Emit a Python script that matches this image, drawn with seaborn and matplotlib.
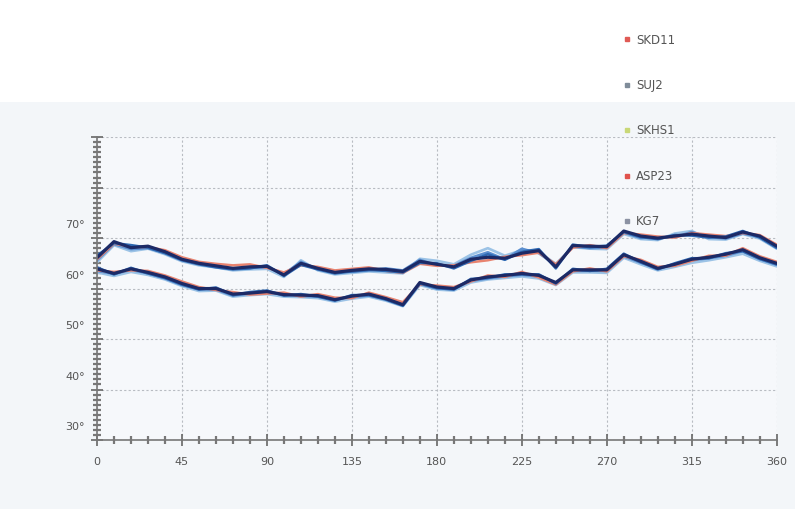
# two bundles of angle curves per steel grade

import pandas as pd
import matplotlib
matplotlib.use("Agg")
import matplotlib.pyplot as plt
import matplotlib.transforms as mtransforms
from matplotlib.lines import Line2D
from matplotlib.patches import Rectangle
import seaborn as sns

# data
angles = [0, 9, 18, 27, 36, 45, 54, 63, 72, 81, 90, 99, 108, 117, 126, 135, 144, 153, 162, 171,
          180, 189, 198, 207, 216, 225, 234, 243, 252, 261, 270, 279, 288, 297, 306, 315, 324, 333,
          342, 351, 360]

upper_suj2 = [66.1, 69.3, 68.1, 68.4, 67.3, 65.8, 65.0, 64.5, 64.0, 64.3, 64.4, 62.7, 65.0, 64.0, 63.2, 63.6, 63.9, 63.8, 63.4, 65.4, 64.8, 64.3, 65.8, 66.2, 66.0, 67.0, 67.5, 64.3, 68.5, 68.4, 68.3, 71.4, 70.4, 70.0, 70.4, 70.8, 70.4, 70.1, 71.2, 70.4, 68.4]
upper_skd11 = [65.8, 68.9, 68.3, 68.2, 67.6, 66.2, 65.3, 64.9, 64.6, 64.8, 64.1, 63.2, 64.6, 64.3, 63.6, 63.9, 64.2, 63.5, 63.1, 64.9, 64.5, 64.6, 65.2, 65.6, 66.3, 66.6, 67.1, 64.8, 68.1, 68.6, 68.0, 71.0, 70.7, 70.3, 70.1, 71.0, 70.7, 70.4, 71.0, 70.6, 68.7]
upper_skhs1 = [65.2, 68.6, 67.4, 67.9, 66.8, 65.4, 64.6, 64.2, 63.6, 63.8, 63.9, 62.3, 65.6, 63.6, 62.8, 63.1, 63.4, 63.2, 63.0, 65.9, 65.5, 64.8, 66.7, 68.0, 66.5, 67.6, 67.2, 64.9, 68.2, 67.9, 67.8, 70.8, 69.8, 69.6, 70.9, 71.4, 69.8, 69.7, 70.8, 69.9, 67.9]
upper_asp23 = [66.5, 69.0, 68.6, 68.1, 67.0, 65.6, 64.8, 64.2, 63.8, 64.0, 64.6, 62.5, 64.7, 63.8, 63.0, 63.4, 63.7, 63.5, 63.2, 65.1, 65.0, 64.0, 65.5, 66.8, 65.7, 67.3, 67.8, 64.0, 68.7, 68.2, 68.5, 71.2, 70.2, 69.8, 70.6, 70.5, 70.1, 70.3, 71.4, 70.1, 68.1]
upper_kg7 = [65.6, 68.8, 67.8, 68.0, 67.1, 65.9, 65.1, 64.4, 63.9, 64.1, 64.2, 62.9, 65.3, 63.8, 63.4, 63.3, 63.6, 64.0, 63.6, 65.7, 64.6, 64.5, 66.1, 67.2, 65.8, 67.9, 67.0, 64.6, 68.3, 68.0, 68.1, 71.1, 70.0, 70.2, 70.2, 71.2, 70.2, 69.9, 70.9, 70.2, 68.0]

lower_suj2 = [63.9, 63.0, 63.9, 63.2, 62.3, 61.0, 60.0, 60.0, 58.9, 59.1, 59.4, 58.8, 58.7, 58.6, 57.8, 58.5, 58.9, 58.0, 56.8, 61.2, 60.3, 60.0, 61.7, 62.3, 62.6, 63.0, 62.6, 61.2, 63.7, 63.7, 63.7, 66.7, 65.4, 64.0, 64.8, 65.8, 66.2, 66.8, 67.7, 66.1, 65.0]
lower_skd11 = [63.6, 63.3, 63.6, 63.5, 62.6, 61.4, 60.3, 59.7, 59.3, 58.8, 59.0, 59.2, 58.4, 58.9, 58.2, 58.1, 59.2, 58.3, 57.3, 60.8, 60.6, 60.3, 61.4, 62.6, 62.3, 63.3, 62.2, 60.8, 63.4, 64.0, 63.4, 66.4, 65.7, 64.3, 64.5, 65.5, 66.5, 66.5, 68.0, 66.4, 65.3]
lower_skhs1 = [63.2, 62.5, 63.3, 62.7, 61.8, 60.5, 59.5, 59.6, 58.4, 58.7, 58.9, 58.4, 58.3, 58.1, 57.4, 58.0, 58.4, 57.6, 56.5, 60.7, 59.8, 59.6, 61.2, 61.8, 62.1, 62.4, 62.0, 60.7, 63.2, 63.2, 63.1, 66.1, 64.8, 63.6, 64.3, 65.1, 65.6, 66.2, 66.9, 65.5, 64.4]
lower_asp23 = [64.2, 62.8, 64.1, 63.0, 62.1, 60.8, 59.8, 60.2, 58.7, 59.3, 59.6, 58.6, 58.9, 58.4, 57.6, 58.7, 58.7, 57.8, 56.6, 61.0, 60.1, 59.8, 61.9, 62.1, 62.8, 62.8, 62.8, 61.0, 63.9, 63.5, 63.9, 66.9, 65.2, 63.8, 65.0, 66.0, 66.0, 67.0, 67.4, 65.9, 64.8]
lower_kg7 = [63.5, 62.9, 63.7, 63.0, 62.0, 60.7, 59.9, 59.8, 58.6, 59.0, 59.1, 58.9, 58.5, 58.4, 57.9, 58.3, 58.6, 57.9, 57.0, 60.9, 60.0, 59.9, 61.5, 62.0, 62.4, 62.7, 62.4, 60.9, 63.5, 63.5, 63.5, 66.4, 65.1, 64.2, 64.6, 65.6, 66.0, 66.5, 67.4, 65.8, 64.7]

series_names = ["SKD11", "SUJ2", "SKHS1", "ASP23", "KG7"]
x_ticks = [0, 45, 90, 135, 180, 225, 270, 315, 360]
y_ticks = [30, 40, 50, 60, 70, 80, 90]
y_labels = ["30°", "40°", "50°", "60°", "70°", "", ""]

# long table for seaborn
curves = {
    "SKHS1": (upper_skhs1, lower_skhs1),
    "KG7": (upper_kg7, lower_kg7),
    "SKD11": (upper_skd11, lower_skd11),
    "ASP23": (upper_asp23, lower_asp23),
    "SUJ2": (upper_suj2, lower_suj2),
}
rows = []
for name, (up, lo) in curves.items():
    for a, v in zip(angles, up):
        rows.append({"series": name, "bundle": "upper", "angle": a, "value": v})
    for a, v in zip(angles, lo):
        rows.append({"series": name, "bundle": "lower", "angle": a, "value": v})
df = pd.DataFrame(rows)

line_colors = {"SKHS1": "#9cc3e6", "KG7": "#5b8fd0", "SKD11": "#e8836f",
               "ASP23": "#2e69b3", "SUJ2": "#1c2a66"}
line_widths = {"SKHS1": 1.9, "KG7": 1.8, "SKD11": 1.8, "ASP23": 1.9, "SUJ2": 2.3}
marker_colors = {"SKD11": "#e05a55", "SUJ2": "#7f8c99", "SKHS1": "#c9d877",
                 "ASP23": "#e0524c", "KG7": "#8c92a3"}

sns.set_style("white")
plt.rcParams["font.family"] = ["DejaVu Sans"]

fig = plt.figure(figsize=(7.95, 5.09), dpi=100)
fig.patch.set_facecolor("white")
# pale panel behind the plot
fig.patches.append(Rectangle((0, 0), 1, 0.80, transform=fig.transFigure,
                             facecolor="#f3f6f9", edgecolor="none", zorder=-10))

ax = fig.add_axes([0.122, 0.1356, 0.855, 0.595])
ax.set_facecolor("#f6f8fb")

for name in curves:
    for b in ["upper", "lower"]:
        sub = df[(df["series"] == name) & (df["bundle"] == b)]
        sns.lineplot(data=sub, x="angle", y="value", ax=ax, color=line_colors[name],
                     lw=line_widths[name], estimator=None, sort=False, legend=False)

ax.set_xlim(0, 360)
ax.set_ylim(30, 90)
ax.set_xticks(x_ticks)
ax.set_xticks(list(range(0, 361, 9)), minor=True)
ax.set_yticks(y_ticks)
ax.set_yticks(list(range(30, 91, 1)), minor=True)
ax.set_yticklabels(y_labels)
ax.set_xlabel("")
ax.set_ylabel("")

ax.grid(True, which="major", linestyle=(0, (2, 2)), color="#b8bcc2", lw=0.8)
for s in ["top", "right"]:
    ax.spines[s].set_visible(False)
for s in ["left", "bottom"]:
    ax.spines[s].set_color("#777777")
    ax.spines[s].set_linewidth(1.2)

ax.tick_params(which="both", bottom=True, left=True)
ax.tick_params(which="major", direction="inout", length=9, width=1.2, color="#666666",
               labelsize=8, labelcolor="#555555")
ax.tick_params(which="minor", direction="inout", length=6, width=1.6, color="#777777")
ax.tick_params(axis="x", pad=8)
ax.tick_params(axis="y", pad=4)

# y labels sit a little above their grid lines in the reference
offset = mtransforms.ScaledTranslation(0, 14 / 100, fig.dpi_scale_trans)
for lab in ax.get_yticklabels():
    lab.set_transform(lab.get_transform() + offset)

handles = [Line2D([], [], marker="s", linestyle="", markersize=3,
                  color=marker_colors[n], label=n) for n in series_names]
leg = fig.legend(handles=handles, loc="upper left", bbox_to_anchor=(0.77, 0.955),
                 frameon=False, fontsize=8.5, labelspacing=2.75, handletextpad=0.3,
                 handlelength=0.8)
for t in leg.get_texts():
    t.set_color("#555555")

fig.savefig("out.png", dpi=100)
